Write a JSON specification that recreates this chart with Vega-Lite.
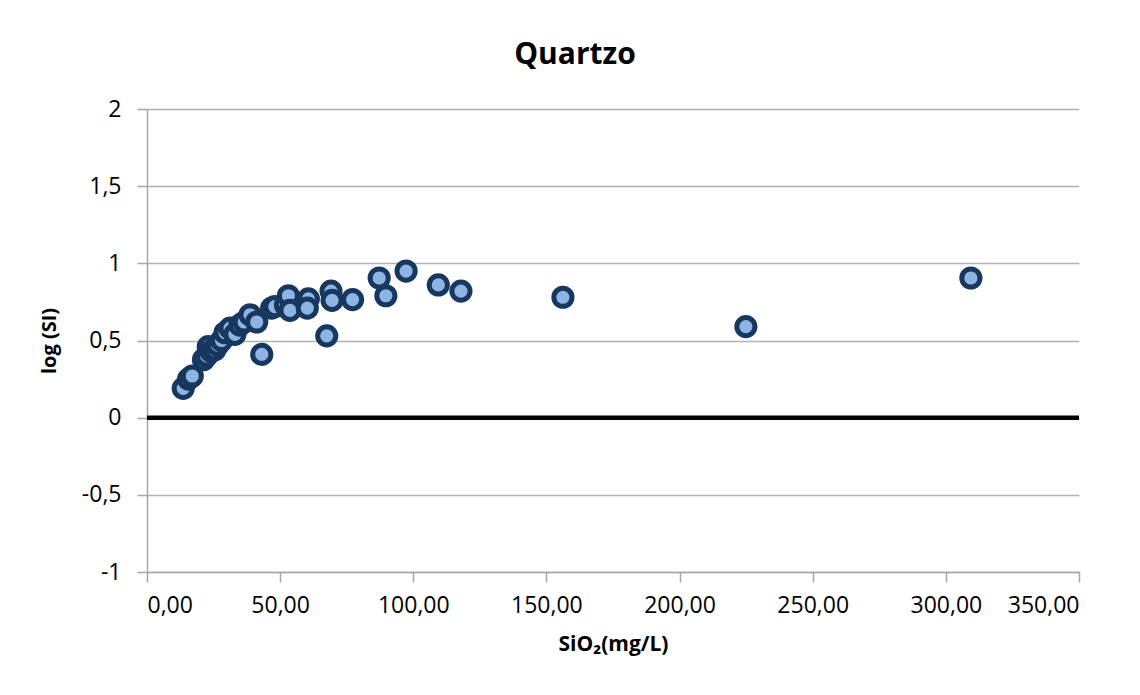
{
  "$schema": "https://vega.github.io/schema/vega-lite/v6.json",
  "width": 932,
  "height": 463,
  "autosize": {"type": "none"},
  "padding": {"left": 147, "top": 109, "right": 61, "bottom": 123},
  "background": "white",
  "config": {
    "font": "Open Sans",
    "view": {"stroke": null},
    "axis": {
      "labelFont": "Open Sans",
      "labelFontSize": 23,
      "labelColor": "#000000",
      "titleFont": "Open Sans",
      "titleFontSize": 20,
      "titleFontWeight": "bold",
      "titleColor": "#000000",
      "domainColor": "#A6A6A6",
      "tickColor": "#A6A6A6",
      "gridColor": "#B3B3B3",
      "domainWidth": 1.5,
      "tickWidth": 1.5,
      "gridWidth": 1.5
    }
  },
  "title": {
    "text": "Quartzo",
    "font": "Open Sans",
    "fontSize": 30,
    "fontWeight": "bold",
    "color": "#000000",
    "anchor": "middle",
    "frame": "group",
    "dx": -38,
    "offset": 28
  },
  "data": {
    "values": [
      {"sio2": 13.6, "logsi": 0.19},
      {"sio2": 15.6, "logsi": 0.25},
      {"sio2": 17.0, "logsi": 0.27},
      {"sio2": 21.2, "logsi": 0.375},
      {"sio2": 22.4, "logsi": 0.40},
      {"sio2": 23.0, "logsi": 0.46},
      {"sio2": 24.0, "logsi": 0.43},
      {"sio2": 25.5, "logsi": 0.44},
      {"sio2": 26.5, "logsi": 0.47},
      {"sio2": 28.0, "logsi": 0.50},
      {"sio2": 29.3, "logsi": 0.55},
      {"sio2": 31.2, "logsi": 0.58},
      {"sio2": 33.0, "logsi": 0.54},
      {"sio2": 34.9, "logsi": 0.60},
      {"sio2": 36.5, "logsi": 0.62},
      {"sio2": 38.7, "logsi": 0.667},
      {"sio2": 41.2, "logsi": 0.62},
      {"sio2": 43.1, "logsi": 0.41},
      {"sio2": 46.8, "logsi": 0.71},
      {"sio2": 48.0, "logsi": 0.72},
      {"sio2": 52.0, "logsi": 0.73},
      {"sio2": 53.1, "logsi": 0.79},
      {"sio2": 53.7, "logsi": 0.695},
      {"sio2": 60.6, "logsi": 0.77},
      {"sio2": 60.2, "logsi": 0.71},
      {"sio2": 67.5, "logsi": 0.53},
      {"sio2": 69.1, "logsi": 0.82},
      {"sio2": 69.5, "logsi": 0.76},
      {"sio2": 77.2, "logsi": 0.765},
      {"sio2": 87.2, "logsi": 0.905},
      {"sio2": 89.7, "logsi": 0.79},
      {"sio2": 97.3, "logsi": 0.95},
      {"sio2": 109.4, "logsi": 0.86},
      {"sio2": 117.9, "logsi": 0.82},
      {"sio2": 156.2, "logsi": 0.78},
      {"sio2": 224.9, "logsi": 0.59},
      {"sio2": 309.4, "logsi": 0.905}
    ]
  },
  "layer": [
    {
      "data": {"values": [{"zero": 0}]},
      "mark": {"type": "rule", "color": "#000000", "strokeWidth": 4.5},
      "encoding": {
        "y": {"field": "zero", "type": "quantitative", "scale": {"domain": [-1, 2]}}
      }
    },
    {
      "mark": {
        "type": "point",
        "shape": "circle",
        "filled": true,
        "fill": "#8DB4E2",
        "stroke": "#17375E",
        "strokeWidth": 5,
        "size": 330,
        "opacity": 1
      },
      "encoding": {
        "x": {
          "field": "sio2",
          "type": "quantitative",
          "scale": {"domain": [0, 350], "nice": false, "zero": false},
          "axis": {
            "title": "SiO₂(mg/L)",
            "values": [0, 50, 100, 150, 200, 250, 300, 350],
            "labelExpr": "replace(format(datum.value, '.2f'), '.', ',')",
            "grid": false,
            "tickSize": 10,
            "labelPadding": 12,
            "titlePadding": 16,
            "titleFontSize": 21
          }
        },
        "y": {
          "field": "logsi",
          "type": "quantitative",
          "scale": {"domain": [-1, 2], "nice": false, "zero": false},
          "axis": {
            "title": "log (SI)",
            "values": [-1, -0.5, 0, 0.5, 1, 1.5, 2],
            "labelExpr": "replace(toString(datum.value), '.', ',')",
            "grid": true,
            "tickSize": 10,
            "labelPadding": 16,
            "titlePadding": 22
          }
        }
      }
    }
  ]
}
